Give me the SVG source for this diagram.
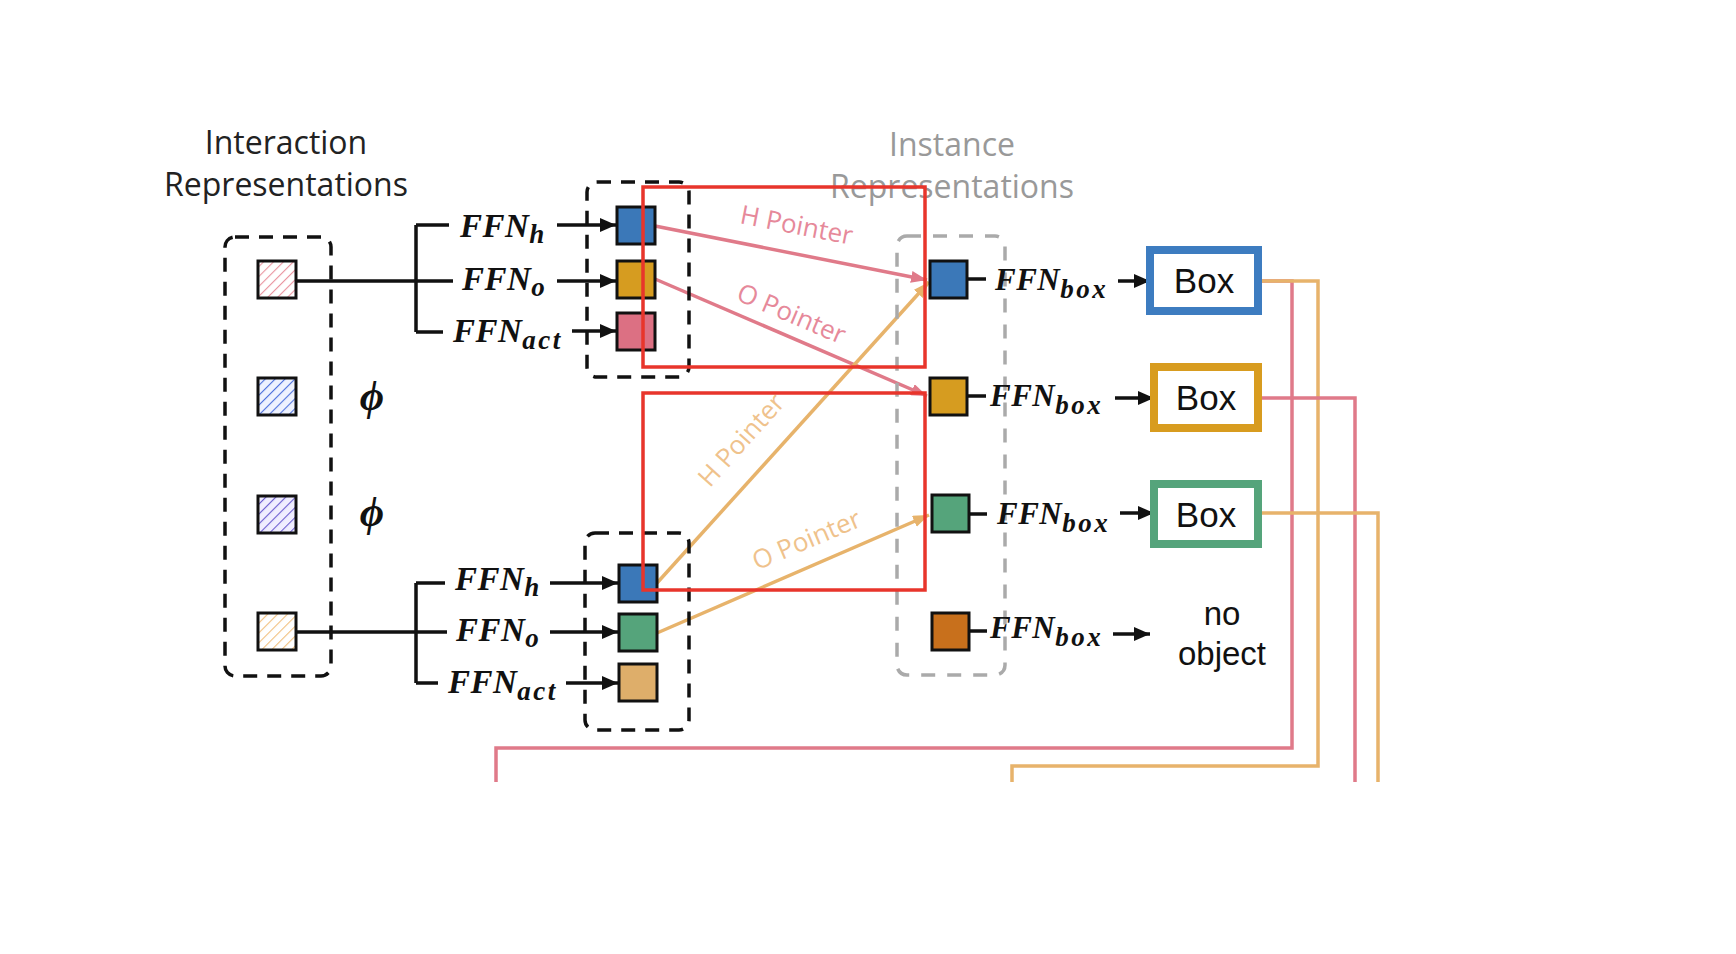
<svg xmlns="http://www.w3.org/2000/svg" width="1736" height="954" viewBox="0 0 1736 954">
<style>
.title{font-family:"Open Sans","Liberation Sans",sans-serif;font-size:32px;text-anchor:middle}
.ffn{font-family:"Liberation Serif",serif;font-weight:bold;font-style:italic;font-size:33px;fill:#111;letter-spacing:0.5px}
.ffnb{font-size:31px}
.sub{font-size:27px;letter-spacing:2.5px}
.phi{font-family:"Liberation Serif",serif;font-weight:bold;font-style:italic;font-size:42px;fill:#111}
.sq{stroke:#111;stroke-width:3}
.dash{fill:none;stroke:#111;stroke-width:3.5;stroke-dasharray:14 10}
.gdash{fill:none;stroke:#aaa;stroke-width:3.5;stroke-dasharray:14 12}
.arr{stroke:#111;stroke-width:3.5;fill:none;marker-end:url(#ah)}
.blk{stroke:#111;stroke-width:3.5;fill:none}
.pink{stroke:#e07a89;stroke-width:3.5;fill:none}
.orng{stroke:#e7b36b;stroke-width:3.5;fill:none}
.pl{font-family:"Open Sans","Liberation Sans",sans-serif;font-size:26px;text-anchor:middle}
.boxt{font-family:"Liberation Sans",Arial,sans-serif;font-size:35px;text-anchor:middle;fill:#111}
.red{fill:none;stroke:#e8352b;stroke-width:3.5}
</style>
<defs>
<marker id="ah" viewBox="0 0 16 14" refX="16" refY="7" markerWidth="16" markerHeight="14" markerUnits="userSpaceOnUse" orient="auto"><path d="M0,0 L16,7 L0,14 z" fill="#111"/></marker>
<marker id="ahp" viewBox="0 0 16 12" refX="16" refY="6" markerWidth="16" markerHeight="12" markerUnits="userSpaceOnUse" orient="auto"><path d="M0,0 L16,6 L0,12 z" fill="#e07a89"/></marker>
<marker id="aho" viewBox="0 0 16 12" refX="16" refY="6" markerWidth="16" markerHeight="12" markerUnits="userSpaceOnUse" orient="auto"><path d="M0,0 L16,6 L0,12 z" fill="#e7b36b"/></marker>
<pattern id="hp" width="7" height="7" patternUnits="userSpaceOnUse" patternTransform="rotate(45)"><rect width="7" height="7" fill="#fff"/><line x1="0" y1="0" x2="0" y2="7" stroke="#ea96a2" stroke-width="2.2"/></pattern>
<pattern id="hb" width="7" height="7" patternUnits="userSpaceOnUse" patternTransform="rotate(45)"><rect width="7" height="7" fill="#eef2ff"/><line x1="0" y1="0" x2="0" y2="7" stroke="#4f72dc" stroke-width="2.2"/></pattern>
<pattern id="hv" width="7" height="7" patternUnits="userSpaceOnUse" patternTransform="rotate(45)"><rect width="7" height="7" fill="#f0eeff"/><line x1="0" y1="0" x2="0" y2="7" stroke="#6a5bcf" stroke-width="2.2"/></pattern>
<pattern id="ho" width="7" height="7" patternUnits="userSpaceOnUse" patternTransform="rotate(45)"><rect width="7" height="7" fill="#fff"/><line x1="0" y1="0" x2="0" y2="7" stroke="#f1bf7c" stroke-width="2.2"/></pattern>
</defs>
<rect width="1736" height="954" fill="#fff"/>

<g id="titles">
<text class="title" x="286" y="154" fill="#222">Interaction</text>
<text class="title" x="286" y="196" fill="#222">Representations</text>
<text class="title" x="952" y="156" fill="#999">Instance</text>
<text class="title" x="952" y="198" fill="#999">Representations</text>
</g>

<g id="interaction-group">
<rect class="dash" x="225" y="237" width="106" height="439" rx="10"/>
<g id="iq1"><rect class="sq" x="258" y="261" width="38" height="37" fill="url(#hp)"/></g>
<g id="iq2"><rect class="sq" x="258" y="378" width="38" height="37" fill="url(#hb)"/></g>
<g id="iq3"><rect class="sq" x="258" y="496" width="38" height="37" fill="url(#hv)"/></g>
<g id="iq4"><rect class="sq" x="258" y="613" width="38" height="37" fill="url(#ho)"/></g>
<text class="phi" x="372" y="410" text-anchor="middle">ϕ</text>
<text class="phi" x="372" y="526" text-anchor="middle">ϕ</text>
</g>

<g id="connectors">
<path class="blk" d="M296,281 H453 M416,281 V225 M416,281 V332 M416,225 H449 M416,332 H443"/>
<path class="arr" d="M557,225 H616"/>
<path class="arr" d="M557,281 H616"/>
<path class="arr" d="M572,331 H616"/>
<path class="blk" d="M296,632 H447 M416,632 V583 M416,632 V683 M416,583 H445 M416,683 H438"/>
<path class="arr" d="M550,583 H618"/>
<path class="arr" d="M550,632 H618"/>
<path class="arr" d="M566,683 H618"/>
<path class="pink" d="M655,226 L927,280" marker-end="url(#ahp)"/>
<path class="pink" d="M655,279 L927,396" marker-end="url(#ahp)"/>
<path class="orng" d="M657,583 L929,282" marker-end="url(#aho)"/>
<path class="orng" d="M657,633 L929,515" marker-end="url(#aho)"/>
<path class="blk" d="M968,279 H986 M968,396 H986 M969,514 H987 M969,631 H987"/>
<path class="arr" d="M1118,281 H1150"/>
<path class="arr" d="M1115,398 H1154"/>
<path class="arr" d="M1120,513 H1154"/>
<path class="arr" d="M1113,634 H1150"/>
<path class="pink" stroke-width="4" d="M1262,281 H1292 V748 H496 V782"/>
<path class="orng" stroke-width="4" d="M1262,281 H1318 V766 H1012 V782"/>
<path class="pink" stroke-width="4" d="M1262,398 H1355 V782"/>
<path class="orng" stroke-width="4" d="M1262,513 H1378 V782"/>
</g>

<g id="top-ffn">
<rect class="dash" x="587" y="182" width="102" height="195" rx="10"/>
<text class="ffn" x="460" y="237">FFN<tspan class="sub" dy="6">h</tspan></text>
<text class="ffn" x="462" y="290">FFN<tspan class="sub" dy="6">o</tspan></text>
<text class="ffn" x="453" y="342">FFN<tspan class="sub" dy="7">act</tspan></text>
<g id="th"><rect class="sq" x="617" y="207" width="38" height="37" fill="#3b78b8"/></g>
<g id="to"><rect class="sq" x="617" y="261" width="38" height="37" fill="#d69c20"/></g>
<g id="ta"><rect class="sq" x="617" y="313" width="38" height="37" fill="#dc7083"/></g>
</g>

<g id="bottom-ffn">
<rect class="dash" x="585" y="533" width="104" height="197" rx="10"/>
<text class="ffn" x="455" y="590">FFN<tspan class="sub" dy="6">h</tspan></text>
<text class="ffn" x="456" y="641">FFN<tspan class="sub" dy="6">o</tspan></text>
<text class="ffn" x="448" y="693">FFN<tspan class="sub" dy="7">act</tspan></text>
<g id="bh"><rect class="sq" x="619" y="565" width="38" height="37" fill="#3b78b8"/></g>
<g id="bo"><rect class="sq" x="619" y="614" width="38" height="37" fill="#55a47b"/></g>
<g id="ba"><rect class="sq" x="619" y="664" width="38" height="37" fill="#deae6a"/></g>
</g>

<g id="pointer-labels">
<text class="pl" fill="#e6899a" transform="translate(795,234) rotate(11)">H Pointer</text>
<text class="pl" fill="#e6899a" transform="translate(788,322) rotate(23)">O Pointer</text>
<text class="pl" fill="#efc28c" transform="translate(748,446) rotate(-48)">H Pointer</text>
<text class="pl" fill="#efc28c" transform="translate(810,548) rotate(-23)">O Pointer</text>
</g>

<g id="instance-group">
<rect class="gdash" x="897" y="236" width="108" height="439" rx="10"/>
<g id="r1"><rect class="sq" x="930" y="261" width="37" height="37" fill="#3b78b8"/></g>
<g id="r2"><rect class="sq" x="930" y="378" width="37" height="37" fill="#d69c20"/></g>
<g id="r3"><rect class="sq" x="932" y="495" width="37" height="37" fill="#55a47b"/></g>
<g id="r4"><rect class="sq" x="932" y="613" width="37" height="37" fill="#c8701c"/></g>
<text class="ffn ffnb" x="995" y="290">FFN<tspan class="sub" dy="8">box</tspan></text>
<text class="ffn ffnb" x="990" y="406">FFN<tspan class="sub" dy="8">box</tspan></text>
<text class="ffn ffnb" x="997" y="524">FFN<tspan class="sub" dy="8">box</tspan></text>
<text class="ffn ffnb" x="990" y="638">FFN<tspan class="sub" dy="8">box</tspan></text>
</g>

<g id="box1"><rect x="1150" y="250" width="108" height="61" fill="#fff" stroke="#3d7cc0" stroke-width="8"/><text class="boxt" x="1204" y="293">Box</text></g>
<g id="box2"><rect x="1154" y="367" width="104" height="61" fill="#fff" stroke="#d89c1f" stroke-width="8"/><text class="boxt" x="1206" y="410">Box</text></g>
<g id="box3"><rect x="1154" y="484" width="104" height="60" fill="#fff" stroke="#55a47b" stroke-width="8"/><text class="boxt" x="1206" y="527">Box</text></g>
<g id="noobj"><text class="boxt" style="font-size:33px" x="1222" y="625">no</text><text class="boxt" style="font-size:33px" x="1222" y="665">object</text></g>

<g id="red-boxes">
<rect class="red" x="643" y="187" width="282" height="180"/>
<rect class="red" x="643" y="393" width="282" height="197"/>
</g>
</svg>
